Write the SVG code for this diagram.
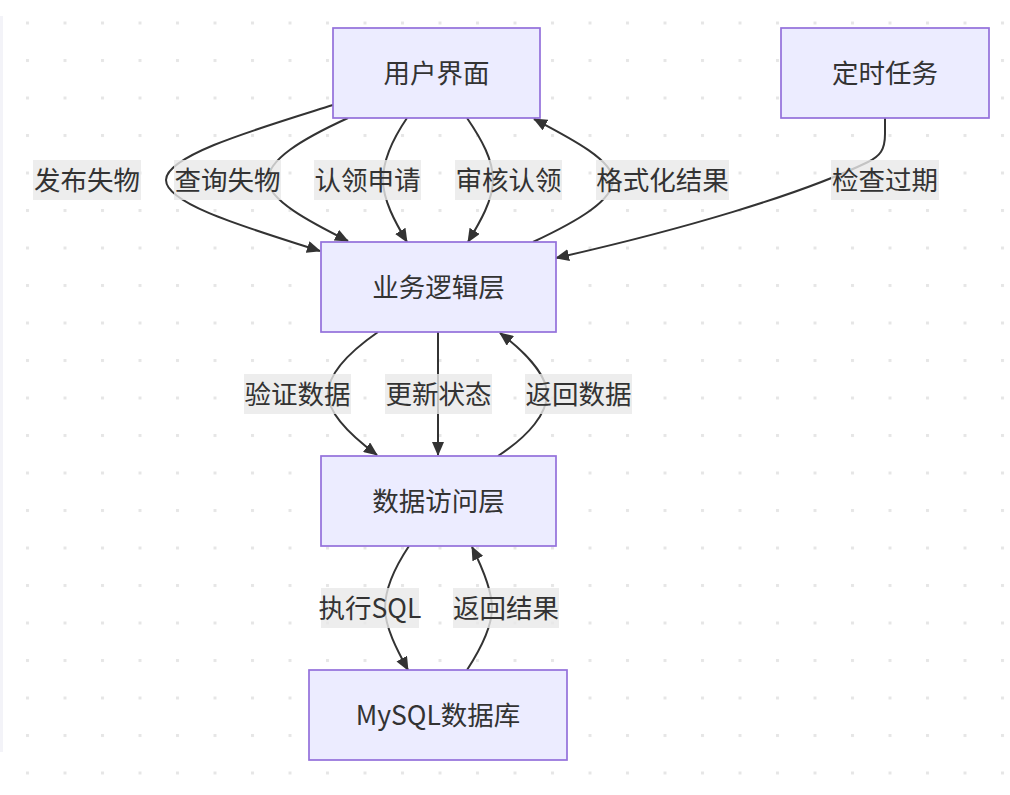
<svg xmlns="http://www.w3.org/2000/svg" width="1010" height="795" viewBox="0 0 1010 795">
<defs>
<pattern id="dots" patternUnits="userSpaceOnUse" x="26" y="21.5" width="37.5" height="37.5">
<rect x="0" y="0" width="3" height="3" fill="#e6e6e6"/>
</pattern>
<marker id="arr" markerUnits="userSpaceOnUse" viewBox="0 0 14 12" markerWidth="14" markerHeight="12" refX="13" refY="6" orient="auto">
<path d="M0,0 L14,6 L0,12 z" fill="#333333"/>
</marker>
<style>
.node rect{fill:#ECECFF;stroke:#9370DB;stroke-width:1.7}
.node text{font-family:"Noto Sans CJK SC","Noto Sans",sans-serif;font-size:26.5px;fill:#333333;text-anchor:middle}
.edges path{fill:none;stroke:#333333;stroke-width:2}
.lbl rect{fill:#e8e8e8;fill-opacity:0.8}
.lbl text{font-family:"Noto Sans CJK SC","Noto Sans",sans-serif;font-size:26.5px;fill:#333333;text-anchor:middle}
</style>
</defs>
<rect width="1010" height="795" fill="#ffffff"/>
<rect width="1010" height="795" fill="url(#dots)"/>
<line x1="1.5" y1="16" x2="1.5" y2="752" stroke="#f3f3f8" stroke-width="3"/>

<g class="edges" id="edges">
<path d="M333,105 C260,128 166,155 166,180 C166,205 255,230 320,251" marker-end="url(#arr)"/>
<path d="M348,118 C300,140 268,160 268,180 C268,200 310,222 348,241" marker-end="url(#arr)"/>
<path d="M407,118 C392,140 383,160 383,180 C383,200 395,222 407,242" marker-end="url(#arr)"/>
<path d="M467,118 C482,140 493,160 493,180 C493,200 480,222 468,242" marker-end="url(#arr)"/>
<path d="M533,242 C580,220 613,200 613,180 C613,160 570,138 534,119" marker-end="url(#arr)"/>
<path d="M885,118 L885,134 C885,150 880,156 868,162 C800,195 680,230 556,258" marker-end="url(#arr)"/>
<path d="M378,332 C345,355 328,375 328,394 C328,413 350,435 377,455" marker-end="url(#arr)"/>
<path d="M438,332 L438,455" marker-end="url(#arr)"/>
<path d="M498,456 C530,435 547,413 547,394 C547,375 525,352 500,333" marker-end="url(#arr)"/>
<path d="M409,546 C395,567 385,590 385,608 C385,627 397,650 408,670" marker-end="url(#arr)"/>
<path d="M467,670 C480,650 492,627 492,608 C492,590 482,567 472,547" marker-end="url(#arr)"/>
</g>

<g class="lbl" id="labels">
<rect x="33" y="160" width="108" height="40"/><text x="87" y="189.5">发布失物</text>
<rect x="174" y="160" width="107" height="40"/><text x="227.5" y="189.5">查询失物</text>
<rect x="314" y="160" width="107" height="40"/><text x="367.5" y="189.5">认领申请</text>
<rect x="455" y="160" width="107" height="40"/><text x="508.5" y="189.5">审核认领</text>
<rect x="596" y="160" width="133" height="40"/><text x="662.5" y="189.5">格式化结果</text>
<rect x="831" y="160" width="108" height="40"/><text x="885" y="189.5">检查过期</text>
<rect x="244" y="374" width="107" height="40"/><text x="297.5" y="403.5">验证数据</text>
<rect x="385" y="374" width="107" height="40"/><text x="438.5" y="403.5">更新状态</text>
<rect x="525" y="374" width="107" height="40"/><text x="578.5" y="403.5">返回数据</text>
<rect x="321" y="588" width="98" height="40"/><text x="370" y="617.5">执行SQL</text>
<rect x="453" y="588" width="106" height="40"/><text x="506" y="617.5">返回结果</text>
</g>

<g class="node" id="ui"><rect x="333" y="28" width="207" height="90"/><text x="436.5" y="82.5">用户界面</text></g>
<g class="node" id="timer"><rect x="781" y="28" width="208" height="90"/><text x="885" y="82.5">定时任务</text></g>
<g class="node" id="biz"><rect x="321" y="242" width="235" height="90"/><text x="438.5" y="296.5">业务逻辑层</text></g>
<g class="node" id="dao"><rect x="321" y="456" width="235" height="90"/><text x="438.5" y="510.5">数据访问层</text></g>
<g class="node" id="db"><rect x="309" y="670" width="258" height="90"/><text x="438" y="724.5">MySQL数据库</text></g>
</svg>
